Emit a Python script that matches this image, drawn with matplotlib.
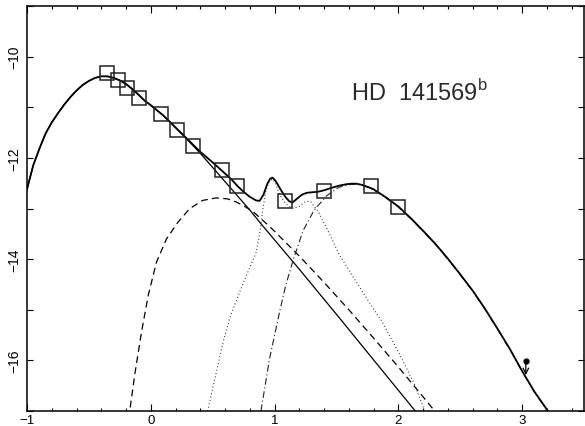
import matplotlib
matplotlib.use("Agg")
import matplotlib.pyplot as plt
from matplotlib.ticker import MultipleLocator

plt.rcParams['font.family'] = ['Liberation Sans', 'DejaVu Sans']

# photometry: log lambda (um) vs log lambda*F_lambda
phot_x = [-0.357, -0.264, -0.191, -0.097, 0.086, 0.215, 0.341, 0.578, 0.699, 1.081, 1.40, 1.78, 2.0]
phot_y = [-10.32, -10.46, -10.62, -10.81, -11.14, -11.45, -11.77, -12.23, -12.56, -12.86, -12.65, -12.56, -12.97]
lim_x = 3.03
lim_y = -16.01

# photosphere
star_x = [-1.0, -0.95, -0.9, -0.85, -0.8, -0.75, -0.7, -0.65, -0.6, -0.55, -0.5, -0.45,
          -0.4, -0.35, -0.3, -0.25, -0.2, -0.15, -0.1, -0.05, 0.0, 0.1, 0.2, 0.3, 0.4,
          0.5, 0.6, 0.7, 0.8, 0.9, 1.0, 1.2, 1.5, 1.8, 2.1, 2.2]
star_y = [-12.62, -12.15, -11.82, -11.52, -11.30, -11.12, -10.95, -10.80, -10.67, -10.56,
          -10.48, -10.42, -10.39, -10.39, -10.42, -10.47, -10.54, -10.64, -10.75, -10.87,
          -10.96, -11.16, -11.40, -11.65, -11.91, -12.19, -12.47, -12.75, -13.03, -13.33,
          -13.62, -14.20, -15.09, -15.99, -16.89, -17.19]

# hot dust
hot_x = [-0.18, -0.169, -0.13, -0.075, -0.02, 0.046, 0.127, 0.22, 0.315, 0.42, 0.53, 0.62,
         0.69, 0.76, 0.83, 0.935, 1.0, 1.2, 1.4, 1.6, 1.8, 2.0, 2.2, 2.3]
hot_y = [-17.15, -16.98, -16.29, -15.44, -14.71, -14.06, -13.60, -13.27, -13.00, -12.84,
         -12.79, -12.81, -12.87, -12.96, -13.07, -13.30, -13.45, -13.94, -14.46, -15.00,
         -15.56, -16.13, -16.72, -17.02]

# warm dust with emission features
warm_x = [0.46, 0.53, 0.583, 0.64, 0.718, 0.79, 0.85, 0.88, 0.906, 0.933, 0.96, 0.985,
          1.01, 1.04, 1.075, 1.11, 1.15, 1.20, 1.25, 1.29, 1.35, 1.42, 1.52, 1.66, 1.79,
          1.87, 2.01, 2.13, 2.21]
warm_y = [-17.0, -16.23, -15.65, -15.15, -14.65, -14.22, -13.88, -13.50, -13.00, -12.62,
          -12.45, -12.42, -12.52, -12.72, -12.86, -12.95, -13.00, -12.96, -12.86, -12.86,
          -13.05, -13.38, -13.90, -14.45, -14.95, -15.24, -15.88, -16.47, -16.98]

# cold dust
cold_x = [0.89, 0.96, 1.04, 1.09, 1.15, 1.23, 1.32, 1.42, 1.52, 1.62, 1.70, 1.80, 1.90,
          2.0, 2.1, 2.2, 2.3, 2.4, 2.5, 2.6, 2.7, 2.8, 2.9, 3.0, 3.1, 3.2, 3.25]
cold_y = [-17.0, -15.96, -15.05, -14.52, -14.02, -13.44, -13.03, -12.75, -12.58, -12.52,
          -12.53, -12.63, -12.79, -12.97, -13.20, -13.45, -13.71, -14.00, -14.31, -14.63,
          -14.99, -15.38, -15.78, -16.22, -16.63, -16.98, -17.18]

# total model
tot_x = [-1.0, -0.95, -0.9, -0.85, -0.8, -0.75, -0.7, -0.65, -0.6, -0.55, -0.5, -0.45,
         -0.4, -0.35, -0.3, -0.25, -0.2, -0.15, -0.1, -0.05, 0.0, 0.1, 0.2, 0.3, 0.4,
         0.5, 0.573, 0.65, 0.702, 0.75, 0.8, 0.85, 0.879, 0.91, 0.94, 0.965, 0.984,
         1.01, 1.05, 1.09, 1.12, 1.145, 1.18, 1.22, 1.26, 1.30, 1.35, 1.40, 1.45, 1.52,
         1.58, 1.62, 1.66, 1.70, 1.75, 1.80, 1.90, 2.0, 2.1, 2.2, 2.3, 2.4, 2.5, 2.6,
         2.7, 2.8, 2.9, 3.0, 3.1, 3.2, 3.25]
tot_y = [-12.62, -12.15, -11.82, -11.52, -11.30, -11.12, -10.95, -10.80, -10.67, -10.56,
         -10.48, -10.42, -10.39, -10.39, -10.42, -10.47, -10.54, -10.64, -10.75, -10.87,
         -10.96, -11.16, -11.40, -11.64, -11.88, -12.09, -12.25, -12.42, -12.56, -12.67,
         -12.77, -12.84, -12.85, -12.73, -12.52, -12.41, -12.39, -12.46, -12.63, -12.78,
         -12.86, -12.88, -12.81, -12.73, -12.69, -12.68, -12.67, -12.64, -12.60, -12.55,
         -12.52, -12.51, -12.51, -12.53, -12.57, -12.62, -12.78, -12.96, -13.19, -13.44,
         -13.70, -13.99, -14.30, -14.62, -14.98, -15.37, -15.77, -16.21, -16.62, -16.97,
         -17.17]

fig = plt.figure(figsize=(5.85, 4.27), dpi=100)
ax = fig.add_axes([27 / 585, 15 / 427, 557 / 585, 405 / 427])

ax.plot(star_x, star_y, color='k', lw=0.9)
ax.plot(hot_x, hot_y, color='k', lw=0.9, dashes=(5.5, 3.5))
ax.plot(warm_x, warm_y, color='#333333', lw=0.8, dashes=(0.9, 2.2))
ax.plot(cold_x, cold_y, color='#222222', lw=0.8, dashes=(6, 2.5, 1, 2.5))
ax.plot(tot_x, tot_y, color='k', lw=1.3)

ax.plot(phot_x, phot_y, 's', ms=9.5, mfc='none', mec='#222222', mew=1.1)
ax.plot(lim_x, lim_y, 'o', ms=3.5, color='k')
ax.annotate('', xy=(lim_x, lim_y - 0.28), xytext=(lim_x, lim_y),
            arrowprops=dict(arrowstyle='->', lw=0.9, color='k', shrinkA=0, shrinkB=0))

ax.text(2.17, -10.70, 'HD  141569$^{\\mathregular{b}}$', ha='center', va='center',
        fontsize=17, color='#2a2a2a')

ax.set_xlim(-1, 3.5)
ax.set_ylim(-17, -9)
ax.xaxis.set_major_locator(MultipleLocator(1))
ax.xaxis.set_minor_locator(MultipleLocator(0.2))
ax.yaxis.set_major_locator(MultipleLocator(2))
ax.yaxis.set_minor_locator(MultipleLocator(1))
ax.tick_params(which='both', direction='in', top=True, right=True, width=0.8,
               labelsize=10, pad=4)
ax.tick_params(axis='x', which='major', length=5, labelsize=9.5, pad=2)
ax.tick_params(axis='x', which='minor', length=2.5)
ax.tick_params(axis='y', which='both', length=4.5)
ax.tick_params(axis='y', labelrotation=90)
for lab in ax.get_yticklabels():
    lab.set_va('center')
for s in ax.spines.values():
    s.set_linewidth(1.1)

fig.savefig('out.png', dpi=100)
